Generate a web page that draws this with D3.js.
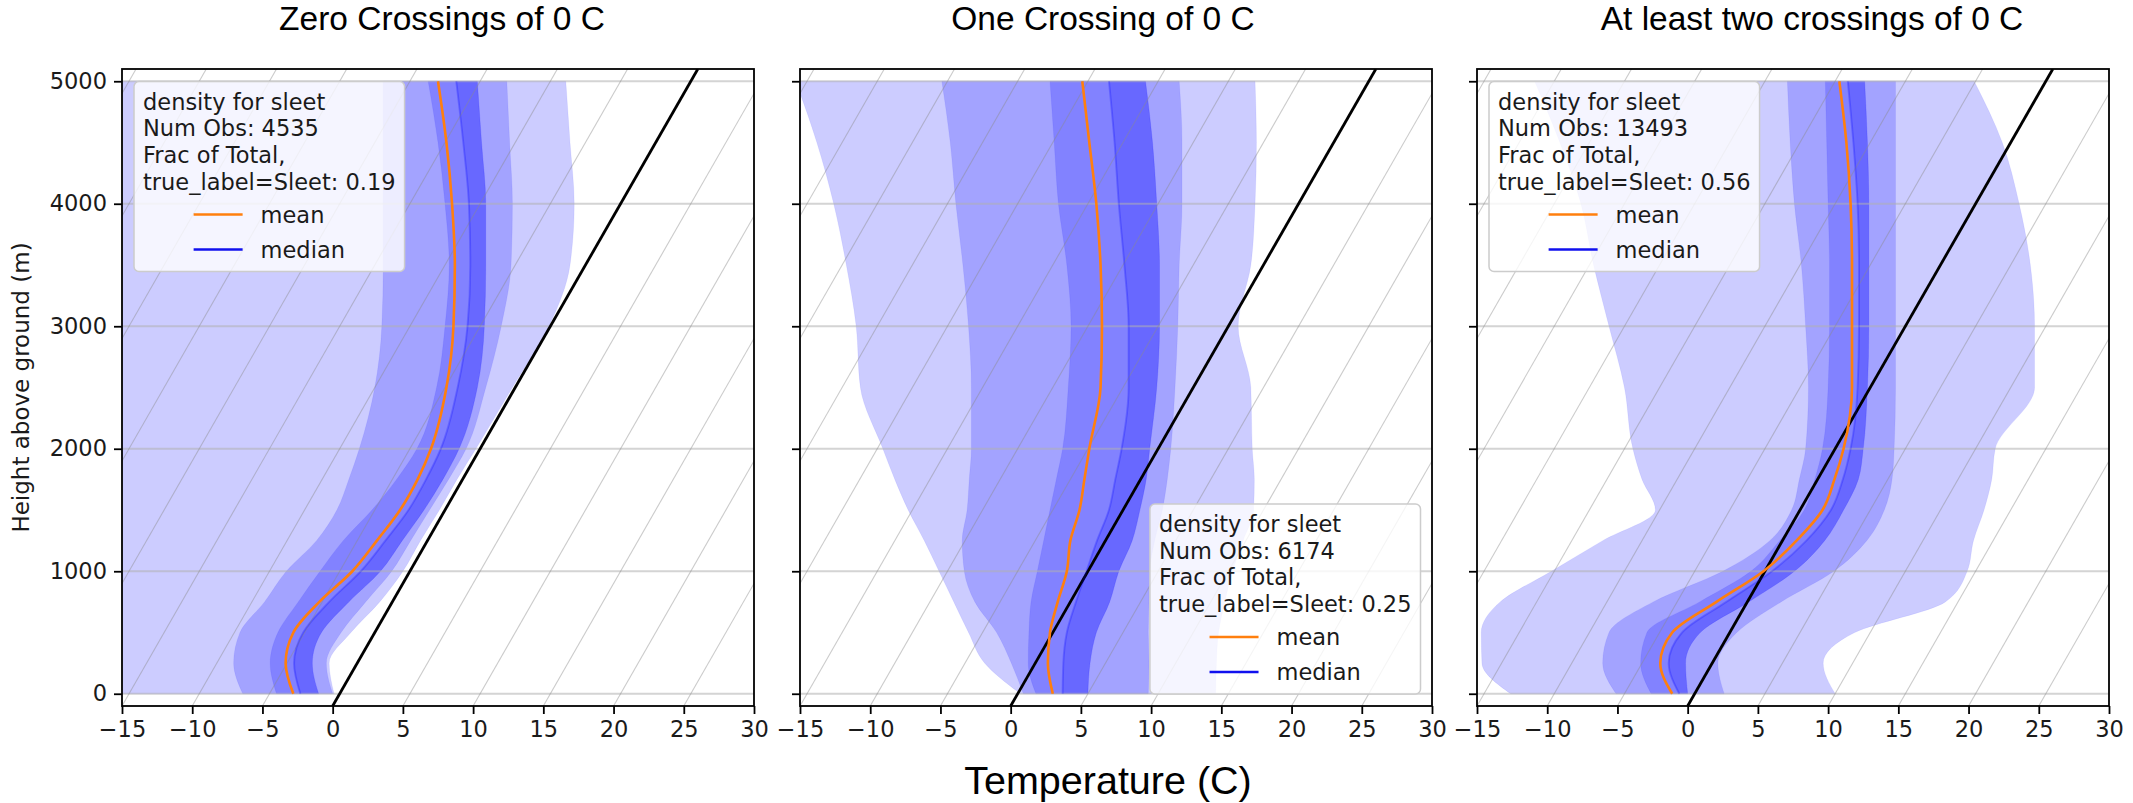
<!DOCTYPE html>
<html>
<head>
<meta charset="utf-8">
<script src="https://cdn.jsdelivr.net/npm/d3@7"></script>
<style>
  body { margin: 0; background: #fff; }
  svg { display: block; }
</style>
</head>
<body>
<svg id="chart" width="2133" height="803"></svg>
<script>
// Heights above ground (m) at which the sleet profiles are summarised
const heights = [0, 250, 500, 750, 1000, 1250, 1500, 1750, 2000, 2500, 3000, 3500, 4000, 4500, 5000];

// Axis ticks
const tempTicks = [-15, -10, -5, 0, 5, 10, 15, 20, 25, 30];
const heightTicks = [0, 1000, 2000, 3000, 4000, 5000];

// Panel titles and legend statistics
const panelTitles = ["Zero Crossings of 0 C", "One Crossing of 0 C", "At least two crossings of 0 C"];
const numObs = [4535, 6174, 13493];
const fracOfTotal = ["0.19", "0.25", "0.56"];

// --- Zero crossings: temperatures (C) per height ---
const zeroMean     = [-3.3, -5.1, -5.8, -5.2, -4.1, -3.6, -3.2, -3.2, -3.5, -4.9, -6.9, -9.3, -12.0, -14.9, -18.0];
const zeroMedian   = [-2.8, -4.5, -5.1, -4.5, -3.5, -3.0, -2.6, -2.6, -2.8, -4.1, -5.9, -8.2, -10.8, -13.7, -16.7];
const zeroOuterLo  = [-17.5, -19.0, -20.0, -21.5, -22.5, -24.0, -25.0, -26.5, -27.5, -30.0, -32.5, -35.0, -37.5, -40.0, -42.5];
const zeroOuterHi  = [-0.4, -2.0, -1.7, -0.9, -0.5, -0.5, -0.4, -0.4, -0.3, -0.2, -0.1, -1.1, -3.3, -6.1, -8.9];
const zeroMidLo    = [-6.9, -8.8, -9.6, -9.1, -8.8, -7.9, -7.7, -8.1, -8.6, -10.0, -12.0, -14.4, -16.9, -19.4, -21.9];
const zeroMidHi    = [-0.5, -2.2, -2.4, -1.9, -1.3, -1.2, -1.1, -1.0, -1.0, -2.1, -3.5, -5.3, -7.7, -10.4, -13.1];
const zeroInnerLo  = [-4.5, -6.2, -6.9, -6.7, -6.4, -6.0, -5.2, -4.7, -4.5, -5.6, -7.5, -9.7, -12.5, -15.5, -18.7];
const zeroInnerHi  = [-1.5, -3.2, -3.8, -3.1, -2.1, -1.8, -1.5, -1.4, -1.5, -2.7, -4.7, -7.1, -9.6, -12.4, -15.2];

// --- One crossing ---
const oneMean      = [2.5, 0.9, -0.2, -0.9, -1.5, -2.5, -3.1, -4.0, -4.9, -6.6, -9.0, -11.6, -14.4, -17.4, -20.4];
const oneMedian    = [3.2, 2.0, 1.0, 0.4, -0.1, -0.6, -1.0, -1.8, -2.6, -4.6, -7.1, -9.9, -12.8, -15.6, -18.5];
const oneOuterLo   = [0.2, -3.6, -6.0, -8.3, -10.6, -12.9, -15.3, -17.5, -19.6, -23.7, -26.5, -29.7, -33.1, -36.8, -40.8];
const oneOuterHi   = [14.1, 12.9, 11.8, 11.0, 10.3, 9.8, 9.3, 8.1, 6.7, 4.1, 0.7, -0.9, -3.1, -5.5, -8.1];
const oneMidLo     = [0.4, -1.7, -4.0, -6.8, -8.8, -10.2, -11.1, -12.2, -13.3, -15.8, -18.5, -21.4, -24.4, -27.3, -30.4];
const oneMidHi     = [9.3, 8.1, 6.8, 5.6, 4.4, 3.5, 2.8, 1.9, 0.9, -1.3, -3.6, -6.0, -8.3, -10.8, -13.5];
const oneInnerLo   = [1.3, -0.5, -1.7, -2.8, -3.6, -4.4, -5.2, -6.0, -6.8, -8.9, -11.2, -14.0, -17.1, -19.9, -22.7];
const oneInnerHi   = [5.0, 3.9, 3.1, 2.8, 2.2, 1.9, 1.2, 0.4, -0.6, -2.6, -4.9, -7.4, -10.1, -12.9, -15.9];

// --- At least two crossings ---
const twoMean      = [-1.6, -3.7, -4.1, -2.2, -0.1, 1.0, 1.6, 1.2, 0.6, -1.3, -3.8, -6.3, -8.9, -11.7, -14.7];
const twoMedian    = [-1.1, -3.1, -3.4, -1.5, 0.5, 1.7, 2.2, 1.8, 1.1, -0.9, -3.3, -5.8, -8.4, -11.2, -14.1];
const twoOuterLo   = [-13.1, -16.4, -17.7, -17.6, -15.2, -12.8, -10.3, -12.5, -14.4, -17.5, -21.1, -24.7, -28.1, -32.1, -36.4];
const twoOuterHi   = [10.0, 7.9, 8.9, 14.1, 14.4, 13.6, 13.1, 12.4, 11.4, 11.7, 9.2, 6.4, 3.1, -0.6, -5.1];
const twoMidLo     = [-5.6, -7.8, -8.6, -6.7, -3.0, -0.9, -0.6, -1.3, -2.1, -4.4, -7.1, -9.9, -12.9, -15.7, -18.4];
const twoMidHi     = [2.1, 0.4, 0.5, 2.4, 4.9, 6.0, 6.0, 5.3, 4.2, 1.8, -0.7, -3.2, -5.7, -8.2, -10.7];
const twoInnerLo   = [-3.1, -5.1, -5.9, -3.4, -1.0, -0.2, 0.3, -0.2, -0.9, -3.0, -5.4, -7.9, -10.5, -13.1, -15.7];
const twoInnerHi   = [-0.5, -1.9, -2.1, 0.1, 2.1, 3.0, 3.1, 2.9, 2.0, -0.2, -2.6, -5.1, -7.6, -10.2, -12.9];

const panels = [
  { mean: zeroMean, median: zeroMedian, outer: [zeroOuterLo, zeroOuterHi], mid: [zeroMidLo, zeroMidHi], inner: [zeroInnerLo, zeroInnerHi], legendAt: "upper left" },
  { mean: oneMean,  median: oneMedian,  outer: [oneOuterLo, oneOuterHi],   mid: [oneMidLo, oneMidHi],   inner: [oneInnerLo, oneInnerHi],   legendAt: "lower right" },
  { mean: twoMean,  median: twoMedian,  outer: [twoOuterLo, twoOuterHi],   mid: [twoMidLo, twoMidHi],   inner: [twoInnerLo, twoInnerHi],   legendAt: "upper left" }
];

// ---------------- layout ----------------
const svg = d3.select("#chart");
const plotLefts = [122, 800, 1477];
const plotW = 632;
const plotTop = 69, plotBottom = 706;
const titleCenters = [442, 1103, 1812];
const SKEW = 0.005;        // isotherm skew, C per metre
const H_BASE = -100;       // height at the bottom edge of the plot

const tickFont = "DejaVu Sans, sans-serif";
const tickSize = 22.5;

const y = d3.scaleLinear().domain([-100, 5100]).range([plotBottom, plotTop]);
const fmt = d3.format("d");
const idx = d3.range(heights.length);

panels.forEach((p, i) => {
  const x = d3.scaleLinear().domain([-15, 30]).range([plotLefts[i], plotLefts[i] + plotW]);
  // skewed x position of temperature t at height h
  const sx = (t, h) => x(t + SKEW * (h - H_BASE));

  const g = svg.append("g");
  const clipId = "clip" + i;
  svg.append("clipPath").attr("id", clipId)
    .append("rect")
    .attr("x", plotLefts[i]).attr("y", plotTop)
    .attr("width", plotW).attr("height", plotBottom - plotTop);

  const plot = g.append("g").attr("clip-path", `url(#${clipId})`);

  // shaded percentile bands
  const band = (lo, hi) => d3.area()
    .curve(d3.curveMonotoneY)
    .y(j => y(heights[j]))
    .x0(j => sx(lo[j], heights[j]))
    .x1(j => sx(hi[j], heights[j]))(idx);

  const bands = [p.outer, p.mid, p.inner, [p.median, p.inner[1]]];
  bands.forEach(([lo, hi]) => {
    plot.append("path")
      .attr("d", band(lo, hi))
      .attr("fill", "#0000ff")
      .attr("fill-opacity", 0.2)
      .attr("stroke", "#0000ff")
      .attr("stroke-opacity", 0.06)
      .attr("stroke-width", 1);
  });

  // horizontal grid
  plot.selectAll(".hgrid").data(heightTicks).enter().append("line")
    .attr("x1", plotLefts[i]).attr("x2", plotLefts[i] + plotW)
    .attr("y1", d => y(d)).attr("y2", d => y(d))
    .attr("stroke", "#b0b0b0").attr("stroke-opacity", 0.55).attr("stroke-width", 1.8);

  // skewed isotherms every 5 C
  const isoTemps = d3.range(-60, 31, 5).filter(t => t !== 0);
  plot.selectAll(".iso").data(isoTemps).enter().append("line")
    .attr("x1", t => sx(t, -100)).attr("y1", y(-100))
    .attr("x2", t => sx(t, 5100)).attr("y2", y(5100))
    .attr("stroke", "#8c8c8c").attr("stroke-opacity", 0.45).attr("stroke-width", 1.1);

  // 0 C isotherm
  plot.append("line")
    .attr("x1", sx(0, -100)).attr("y1", y(-100))
    .attr("x2", sx(0, 5100)).attr("y2", y(5100))
    .attr("stroke", "#000").attr("stroke-width", 2.8);

  const profile = arr => d3.line()
    .curve(d3.curveMonotoneY)
    .x(j => sx(arr[j], heights[j]))
    .y(j => y(heights[j]))(idx);

  plot.append("path").attr("d", profile(p.median))
    .attr("fill", "none").attr("stroke", "#0000ff").attr("stroke-opacity", 0.22).attr("stroke-width", 2);
  plot.append("path").attr("d", profile(p.mean))
    .attr("fill", "none").attr("stroke", "#ff7f0e").attr("stroke-width", 2.6);

  // axes
  const xAxis = d3.axisBottom(x).tickValues(tempTicks).tickFormat(fmt)
    .tickSize(8).tickSizeOuter(0).tickPadding(7);
  const gx = g.append("g").attr("transform", `translate(0,${plotBottom})`).call(xAxis);
  const yAxis = d3.axisLeft(y).tickValues(heightTicks)
    .tickFormat(i === 0 ? fmt : () => "")
    .tickSize(8).tickSizeOuter(0).tickPadding(7);
  const gy = g.append("g").attr("transform", `translate(${plotLefts[i]},0)`).call(yAxis);
  [gx, gy].forEach(a => {
    a.select(".domain").remove();
    a.selectAll(".tick line").attr("stroke", "#000").attr("stroke-width", 1.8);
    a.selectAll(".tick text").attr("fill", "#1a1a1a")
      .style("font-family", tickFont).style("font-size", tickSize + "px");
  });

  // frame
  g.append("rect")
    .attr("x", plotLefts[i]).attr("y", plotTop)
    .attr("width", plotW).attr("height", plotBottom - plotTop)
    .attr("fill", "none").attr("stroke", "#000").attr("stroke-width", 1.8);

  // title
  svg.append("text")
    .attr("x", titleCenters[i]).attr("y", 30)
    .attr("text-anchor", "middle")
    .style("font-family", "Liberation Sans, Arial, sans-serif")
    .style("font-size", "33.5px")
    .attr("fill", "#000")
    .text(panelTitles[i]);

  // legend
  const titleLines = ["density for sleet", `Num Obs: ${numObs[i]}`, "Frac of Total,", `true_label=Sleet: ${fracOfTotal[i]}`];
  const leg = g.append("g");
  const box = leg.append("rect")
    .attr("fill", "#fff").attr("fill-opacity", 0.8)
    .attr("stroke", "#cccccc").attr("stroke-width", 1.5).attr("rx", 5);
  const texts = leg.selectAll(".lt").data(titleLines).enter().append("text")
    .attr("x", 9).attr("y", (d, k) => 28 + k * 26.7)
    .style("font-family", tickFont).style("font-size", tickSize + "px")
    .attr("fill", "#1a1a1a")
    .text(d => d);
  let maxW = 0;
  texts.each(function () { maxW = Math.max(maxW, this.getComputedTextLength()); });
  const boxW = maxW + 18, boxH = 190;
  box.attr("width", boxW).attr("height", boxH);

  const entries = [{ label: "mean", color: "#ff7f0e" }, { label: "median", color: "#1010ee" }];
  const handleLen = 49, gap = 18;
  const probe = leg.append("text").style("font-family", tickFont).style("font-size", tickSize + "px").text("median");
  const labelW = probe.node().getComputedTextLength();
  probe.remove();
  const blockX = (boxW - (handleLen + gap + labelW)) / 2;
  entries.forEach((e, k) => {
    const cy = 133 + k * 35;
    leg.append("line")
      .attr("x1", blockX).attr("x2", blockX + handleLen)
      .attr("y1", cy).attr("y2", cy)
      .attr("stroke", e.color).attr("stroke-width", 2.6);
    leg.append("text")
      .attr("x", blockX + handleLen + gap).attr("y", cy + 8)
      .style("font-family", tickFont).style("font-size", tickSize + "px")
      .attr("fill", "#1a1a1a")
      .text(e.label);
  });

  let lx, ly;
  if (p.legendAt === "upper left") {
    lx = plotLefts[i] + 12; ly = plotTop + 12.5;
  } else {
    lx = plotLefts[i] + plotW - 11.5 - boxW; ly = plotBottom - 12 - boxH;
  }
  leg.attr("transform", `translate(${lx},${ly})`);
});

// shared axis labels
svg.append("text")
  .attr("transform", `translate(29,${(plotTop + plotBottom) / 2}) rotate(-90)`)
  .attr("text-anchor", "middle")
  .style("font-family", tickFont).style("font-size", "23px")
  .attr("fill", "#1a1a1a")
  .text("Height above ground (m)");

svg.append("text")
  .attr("x", 1108).attr("y", 794)
  .attr("text-anchor", "middle")
  .style("font-family", "Liberation Sans, Arial, sans-serif")
  .style("font-size", "39.5px")
  .attr("fill", "#000")
  .text("Temperature (C)");
</script>
</body>
</html>
